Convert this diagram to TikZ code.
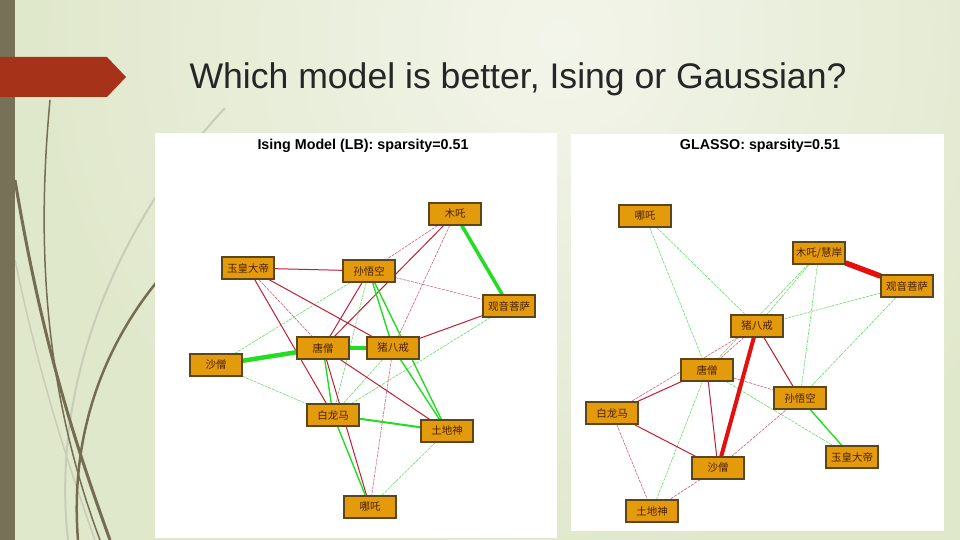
\documentclass[tikz,border=0pt]{standalone}
\usepackage{fontspec}
\setmainfont{Liberation Sans}
\newfontfamily\cjk{Noto Sans CJK SC}
\usepackage{tikz}
\usepackage{xcolor}
\definecolor{bgin}{HTML}{F3F5EA}
\definecolor{bgout}{HTML}{E0E8CC}
\definecolor{bar}{HTML}{777157}
\definecolor{banner}{HTML}{A7321A}
\definecolor{wisp}{HTML}{746D52}
\definecolor{wisplight}{HTML}{C9CDB7}
\definecolor{boxfill}{HTML}{E39B0C}
\definecolor{boxline}{HTML}{5C4518}
\definecolor{boxtext}{HTML}{4A2008}
\definecolor{gbright}{HTML}{22DD22}
\definecolor{glight}{HTML}{66DD66}
\definecolor{rmid}{HTML}{C21F36}
\definecolor{rthin}{HTML}{D0607A}
\definecolor{rbold}{HTML}{E60F0F}
\pgfdeclarelayer{back}
\pgfdeclarelayer{edges}
\pgfsetlayers{back,edges,main}

\begin{document}
\begin{tikzpicture}[x=1pt,y=-1pt,
  box/.style={draw=boxline,fill=boxfill,line width=1.1pt,minimum width=52pt,minimum height=22pt,inner sep=0pt,text=boxtext,font=\cjk\fontsize{10.5}{12}\selectfont},
  gbold/.style={gbright,line width=#1},
  gmid/.style={gbright,line width=1.4pt},
  gthin/.style={glight,line width=0.6pt,dash pattern=on 3pt off 1pt},
  rboldline/.style={rbold,line width=#1},
  rmidline/.style={rmid,line width=1pt},
  rthinline/.style={rthin,line width=0.6pt,dash pattern=on 3pt off 1pt},
  ptitle/.style={font=\bfseries\fontsize{14.3}{16}\selectfont}]
\useasboundingbox (0,0) rectangle (960,540);
\begin{pgfonlayer}{back}
\begin{scope}
\clip (0,0) rectangle (960,540);
\fill[bgout] (0,0) rectangle (960,540);
\shade[inner color=bgin,outer color=bgout] (560,40) circle (520);
\draw[wisplight,line width=2pt] (225,108) .. controls (120,220) and (50,380) .. (68,540);
\draw[wisplight,line width=1.5pt] (15,260) .. controls (40,380) and (70,470) .. (95,540);
\draw[wisp,line width=1.5pt] (50,100) .. controls (38,230) and (40,380) .. (100,540);
\draw[wisp,line width=3pt] (15,180) .. controls (40,330) and (70,430) .. (110,540);
\draw[wisp,line width=2.5pt] (160,278) .. controls (100,350) and (70,440) .. (78,540);
\fill[bar] (0,0) rectangle (15,540);
\fill[banner] (0,57) -- (107,57) -- (126,77) -- (107,97) -- (0,97) -- cycle;
\fill[white] (155,133) rectangle (557,538);
\fill[white] (571,134) rectangle (944,531);
\end{scope}
\end{pgfonlayer}
\node[anchor=base west,text=black!85,font=\fontsize{35.6}{40}\selectfont] (title) at (186,89) {Which model is better, Ising or Gaussian?};
\node[ptitle] (ltitle) at (363,146) {Ising Model (LB): sparsity=0.51};
\node[ptitle] (rtitle) at (760,146) {GLASSO: sparsity=0.51};

\node[box] (LYH) at (248,268) {玉皇大帝};
\node[box] (LSW) at (369,271) {孙悟空};
\node[box] (LMZ) at (455,214) {木吒};
\node[box] (LGY) at (509,306) {观音菩萨};
\node[box] (LSS) at (216,365) {沙僧};
\node[box] (LTS) at (323,348) {唐僧};
\node[box] (LZB) at (393,348) {猪八戒};
\node[box] (LBL) at (333,415) {白龙马};
\node[box] (LTD) at (447,431) {土地神};
\node[box] (LNZ) at (370,507) {哪吒};

\node[box] (RNZ) at (645,216) {哪吒};
\node[box] (RMZ) at (819,253) {木吒/慧岸};
\node[box] (RGY) at (907,286) {观音菩萨};
\node[box] (RZB) at (757,326) {猪八戒};
\node[box] (RTS) at (707,370) {唐僧};
\node[box] (RSW) at (800,398) {孙悟空};
\node[box] (RBL) at (612,413) {白龙马};
\node[box] (RYH) at (852,457) {玉皇大帝};
\node[box] (RSS) at (718,468) {沙僧};
\node[box] (RTD) at (652,511) {土地神};

\begin{pgfonlayer}{edges}
% Ising model
\draw[gthin] (LSS) -- (LSW);
\draw[gthin] (LSS) -- (LBL);
\draw[gthin] (LSW) -- (LBL);
\draw[gthin] (LBL) -- (LGY);
\draw[gthin] (LZB) -- (LBL);
\draw[gthin] (LTD) -- (LNZ);
\draw[rthinline] (LYH) -- (LTS);
\draw[rthinline] (LMZ) -- (LSW);
\draw[rthinline] (LMZ) -- (LZB);
\draw[rthinline] (LSW) -- (LGY);
\draw[rthinline] (LZB) -- (LNZ);
\draw[rmidline] (LYH) -- (LSW);
\draw[rmidline] (LYH) -- (LZB);
\draw[rmidline] (LYH) -- (LBL);
\draw[rmidline] (LSW) -- (LTS);
\draw[rmidline] (LMZ) -- (LTS);
\draw[rmidline] (LTS) -- (LTD);
\draw[rmidline] (LZB) -- (LGY);
\draw[rmidline] (LTS) -- (LNZ);
\draw[gmid] (LSW) -- (LZB);
\draw[gmid] (LSW) -- (LTD);
\draw[gmid] (LZB) -- (LTD);
\draw[gmid] (LTS) -- (LBL);
\draw[gmid] (LBL) -- (LNZ);
\draw[gbold=2pt] (LBL) -- (LTD);
\draw[gbold=3.5pt] (LMZ) -- (LGY);
\draw[gbold=4.5pt] (LSS) -- (LTS);
\draw[gbold=3.5pt] (LTS) -- (LZB);
% GLASSO
\draw[gthin] (RNZ) -- (RZB);
\draw[gthin] (RNZ) -- (RTS);
\draw[gthin] (RMZ) -- (RZB);
\draw[gthin] (RMZ) -- (RTS);
\draw[gthin] (RMZ) -- (RSW);
\draw[gthin] (RGY) -- (RZB);
\draw[gthin] (RGY) -- (RSW);
\draw[gthin] (RZB) -- (RSW);
\draw[gthin] (RTS) -- (RYH);
\draw[gthin] (RTS) -- (RTD);
\draw[rthinline] (RZB) -- (RBL);
\draw[rthinline] (RTS) -- (RSW);
\draw[rthinline] (RBL) -- (RTD);
\draw[rthinline] (RSS) -- (RTD);
\draw[rthinline] (RSS) -- (RSW);
\draw[rthinline] (RZB) -- (RTS);
\draw[rmidline] (RZB) -- (RSW);
\draw[rmidline] (RTS) -- (RBL);
\draw[rmidline] (RTS) -- (RSS);
\draw[rmidline] (RBL) -- (RSS);
\draw[gmid] (RSW) -- (RYH);
\draw[rboldline=5.5pt] (RMZ) -- (RGY);
\draw[rboldline=4pt] (RZB) -- (RSS);
\end{pgfonlayer}
\end{tikzpicture}
\end{document}
